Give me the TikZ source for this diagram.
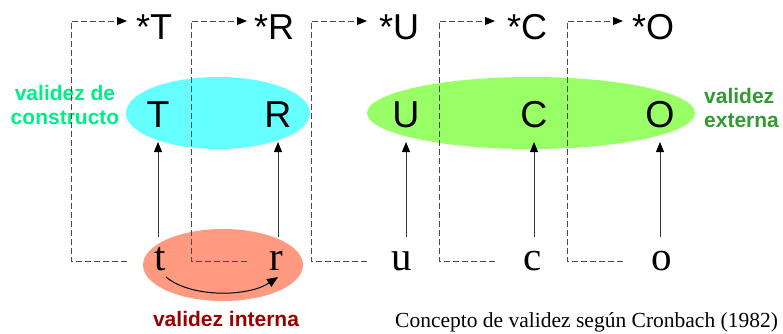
\documentclass[tikz,border=0pt]{standalone}
\usepackage{fontspec}
\setmainfont{Liberation Serif}
\setsansfont{Liberation Sans}
\usetikzlibrary{arrows.meta}
\definecolor{cyanfill}{HTML}{66FFFF}
\definecolor{greenfill}{HTML}{99FF66}
\definecolor{salmonfill}{HTML}{FF9980}
\definecolor{constructo}{HTML}{00EE88}
\definecolor{externa}{HTML}{339933}
\definecolor{interna}{HTML}{990000}
\definecolor{dashgray}{HTML}{4A4A4A}
\definecolor{linegray}{HTML}{333333}
\begin{document}
\begin{tikzpicture}[x=1pt,y=-1pt,
  starred/.style={anchor=base west, inner sep=0pt, text height=36pt, text depth=0pt,
    font=\sffamily\fontsize{36}{40}\selectfont},
  construct/.style={anchor=base, inner sep=0pt, text height=27pt, text depth=0pt,
    outer ysep=15pt, font=\sffamily\fontsize{37.5}{40}\selectfont},
  observed/.style={anchor=base, inner sep=0pt, text height=18pt, text depth=0pt,
    outer ysep=15pt, font=\rmfamily\fontsize{41}{44}\selectfont},
  label/.style={inner sep=0pt, font=\sffamily\bfseries\fontsize{21}{24}\selectfont},
  link/.style={draw=dashgray, line width=1pt, dash pattern=on 6pt off 3pt,
    -{Triangle[length=10pt,width=8pt,color=black]}},
  measure/.style={draw=linegray, line width=0.9pt,
    -{Triangle[length=10pt,width=8pt,color=black]}},
  effect/.style={draw=black, line width=1pt,
    -{Triangle[length=11pt,width=9pt]}}]

\useasboundingbox (0,0) rectangle (783,333);

% validity regions
\fill[cyanfill]   (218,113) ellipse [x radius=92pt,  y radius=36pt];
\fill[greenfill]  (531,113) ellipse [x radius=164pt, y radius=36pt];
\fill[salmonfill] (223,265) ellipse [x radius=80pt,  y radius=36pt];

% target constructs
\node[starred] (sT) at (136,39) {*T};
\node[starred] (sR) at (254,39) {*R};
\node[starred] (sU) at (379,39) {*U};
\node[starred] (sC) at (507,39) {*C};
\node[starred] (sO) at (632,39) {*O};

% constructs of the study
\node[construct] (T) at (158,127) {T};
\node[construct] (R) at (278,127) {R};
\node[construct] (U) at (406,127) {U};
\node[construct] (C) at (534,127) {C};
\node[construct] (O) at (660,127) {O};

% observed operations
\node[observed] (t) at (160,270) {t};
\node[observed] (r) at (276,270) {r};
\node[observed] (u) at (402,270) {u};
\node[observed] (c) at (533,270) {c};
\node[observed] (o) at (662,270) {o};

% labels (base anchor sits on the last line)
\node[label, text=constructo, align=center, anchor=base] (lc) at (65,124) {validez de\\constructo};
\node[label, text=externa, align=left, anchor=base west] (le) at (704,127) {validez\\externa};
\node[label, text=interna, anchor=base] (li) at (226,326) {validez interna};
\node[anchor=base west, inner sep=0pt, font=\rmfamily\fontsize{21.5}{24}\selectfont] (cap) at (395,327)
  {Concepto de validez según Cronbach (1982)};

% generalisation from operations to target constructs
\draw[link] ([xshift=-33pt]t.center) coordinate (gt) -- ++(-56,0) |- (gt |- sT.west);
\draw[link] ([xshift=-29pt]r.center) coordinate (gr) -- ++(-56,0) |- (gr |- sR.west);
\draw[link] ([xshift=-35pt]u.center) coordinate (gu) -- ++(-56,0) |- (gu |- sU.west);
\draw[link] ([xshift=-38pt]c.center) coordinate (gc) -- ++(-56,0) |- (gc |- sC.west);
\draw[link] ([xshift=-39pt]o.center) coordinate (go) -- ++(-56,0) |- (go |- sO.west);

% operations measure constructs
\draw[measure] (T.south |- t.north) -- (T.south);
\draw[measure] (R.south |- r.north) -- (R.south);
\draw[measure] (U.south |- u.north) -- (U.south);
\draw[measure] (C.south |- c.north) -- (C.south);
\draw[measure] (O.south |- o.north) -- (O.south);

% treatment to response
\draw[effect] ([shift={(6pt,-7pt)}]t.base) .. controls +(25,21) and +(-30,20) .. ([shift={(2pt,-7pt)}]r.base);
\end{tikzpicture}
\end{document}
